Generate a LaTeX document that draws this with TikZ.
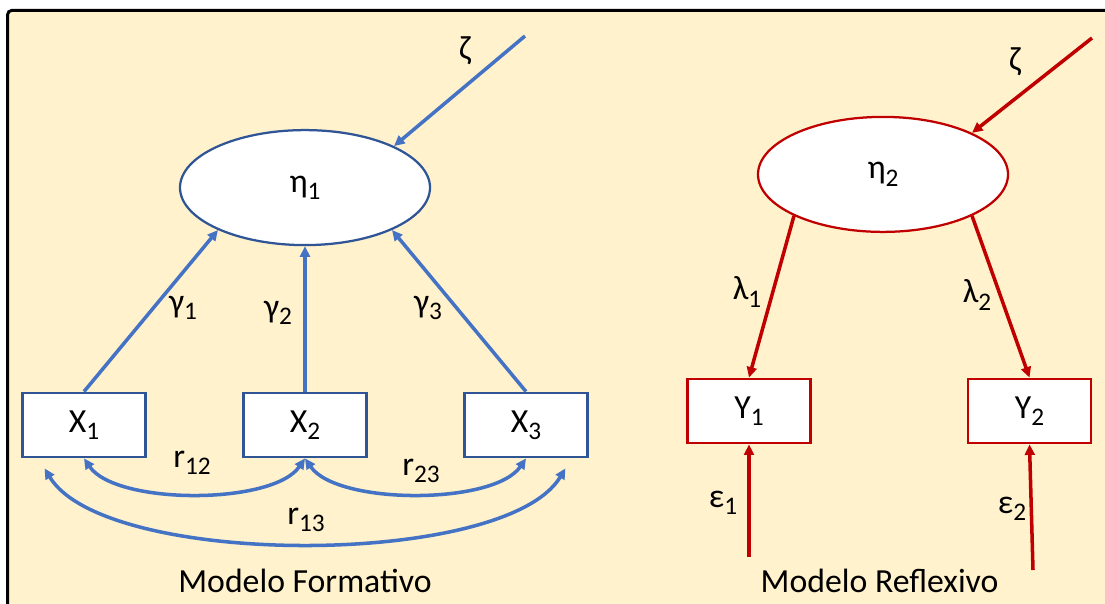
\documentclass[tikz,border=0pt]{standalone}
\usepackage{fontspec}
\setmainfont{Carlito}
\usepackage{tikz}
\usetikzlibrary{
  arrows.meta,
  shapes.geometric,
  positioning
}
\definecolor{semBlue}{HTML}{4472C4}
\definecolor{semNavy}{HTML}{2F5597}
\definecolor{semRed}{HTML}{C00000}
\definecolor{semPaper}{HTML}{FFF2CC}
\newcommand{\semsub}[1]{\raisebox{-0.22em}{\fontsize{18}{20}\selectfont #1}}
\tikzset{
  semnode/.style={
    draw, fill=white, inner sep=0pt, align=center,
    font=\fontsize{24}{28}\selectfont
  },
  latent/.style={semnode, ellipse, line width=1.6pt, minimum width=6.25cm, minimum height=2.875cm},
  indicator/.style={semnode, rectangle, line width=2pt, minimum width=3.075cm, minimum height=1.6cm},
  formlink/.style={-{Triangle[length=7.5pt, width=7pt]}, line width=2.5pt, semBlue},
  corr/.style={{Triangle[length=7.5pt, width=7pt]}-{Triangle[length=7.5pt, width=7pt]}, line width=2.5pt, semBlue},
  reflink/.style={-{Triangle[length=7.5pt, width=7pt]}, line width=2.5pt, semRed},
  coef/.style={font=\fontsize{24}{28}\selectfont, inner sep=0pt},
  modeltitle/.style={font=\fontsize{24}{28}\selectfont, inner sep=0pt, anchor=base},
  paper/.style={draw=black, line width=2.1pt, fill=semPaper, rounded corners=3pt}
}

\begin{document}
\begin{tikzpicture}
  \useasboundingbox (0,0) rectangle (27.625,15.1);
  \draw[paper] (0.19,-0.5) rectangle (28.2,14.84);

  % formative model
  \node[latent, draw=semNavy] (eta1) at (7.625,10.41) {η\semsub{1}};
  \node[indicator, draw=semNavy] (x1) at (2.1,4.475) {X\semsub{1}};
  \node[indicator, draw=semNavy] (x2) at (7.625,4.475) {X\semsub{2}};
  \node[indicator, draw=semNavy] (x3) at (13.15,4.475) {X\semsub{3}};
  \coordinate (zeta1) at (13.125,14.2);
  \draw[formlink] (zeta1) -- (eta1.25);
  \node[coef] (zeta1lbl) at (11.625,13.825) {ζ};
  \draw[formlink] (x1.north) -- (eta1.206);
  \draw[formlink] (x2.north) -- (eta1.south);
  \draw[formlink] (x3.north) -- (eta1.334);
  \node[coef] (g1) at (4.575,7.4) {γ\semsub{1}};
  \node[coef] (g2) at (6.95,7.275) {γ\semsub{2}};
  \node[coef] (g3) at (10.7,7.4) {γ\semsub{3}};
  \draw[corr] (x1.south) .. controls +(0.8,-1.17) and +(-0.8,-1.17) .. (x2.south);
  \draw[corr] (x2.south) .. controls +(0.8,-1.17) and +(-0.8,-1.17) .. (x3.south);
  \coordinate (r13a) at ([xshift=0.5875cm, yshift=-0.25cm]x1.south west);
  \coordinate (r13b) at ([xshift=-0.5875cm, yshift=-0.25cm]x3.south east);
  \draw[corr] (r13a) .. controls +(1.5,-2.5) and +(-1.5,-2.5) .. (r13b);
  \node[coef] (r12) at (4.8,3.525) {r\semsub{12}};
  \node[coef] (r23) at (10.525,3.325) {r\semsub{23}};
  \node[coef] (r13) at (7.65,2.1) {r\semsub{13}};
  \node[modeltitle] (formtitle) at (7.625,0.275) {Modelo Formativo};

  % reflective model
  \node[latent, draw=semRed] (eta2) at (22.075,10.74) {η\semsub{2}};
  \node[indicator, draw=semRed] (y1) at (18.725,4.825) {Y\semsub{1}};
  \node[indicator, draw=semRed] (y2) at (25.7375,4.825) {Y\semsub{2}};
  \coordinate (zeta2) at (27.3,14.15);
  \draw[reflink] (zeta2) -- (eta2.25);
  \node[coef] (zeta2lbl) at (25.375,13.55) {ζ};
  \draw[reflink] (eta2.205) -- (y1.north);
  \draw[reflink] (eta2.-25) -- (y2.north);
  \node[coef] (l1) at (18.675,7.8) {λ\semsub{1}};
  \node[coef] (l2) at (24.425,7.725) {λ\semsub{2}};
  \coordinate (eps1) at (18.725,1.175);
  \coordinate (eps2) at (25.825,0.85);
  \draw[reflink] (eps1) -- (y1.south);
  \draw[reflink] (eps2) -- (y2.south);
  \node[coef] (e1) at (18.075,2.525) {ε\semsub{1}};
  \node[coef] (e2) at (25.3,2.375) {ε\semsub{2}};
  \node[modeltitle] (reftitle) at (21.99,0.275) {Modelo Reflexivo};
\end{tikzpicture}
\end{document}
